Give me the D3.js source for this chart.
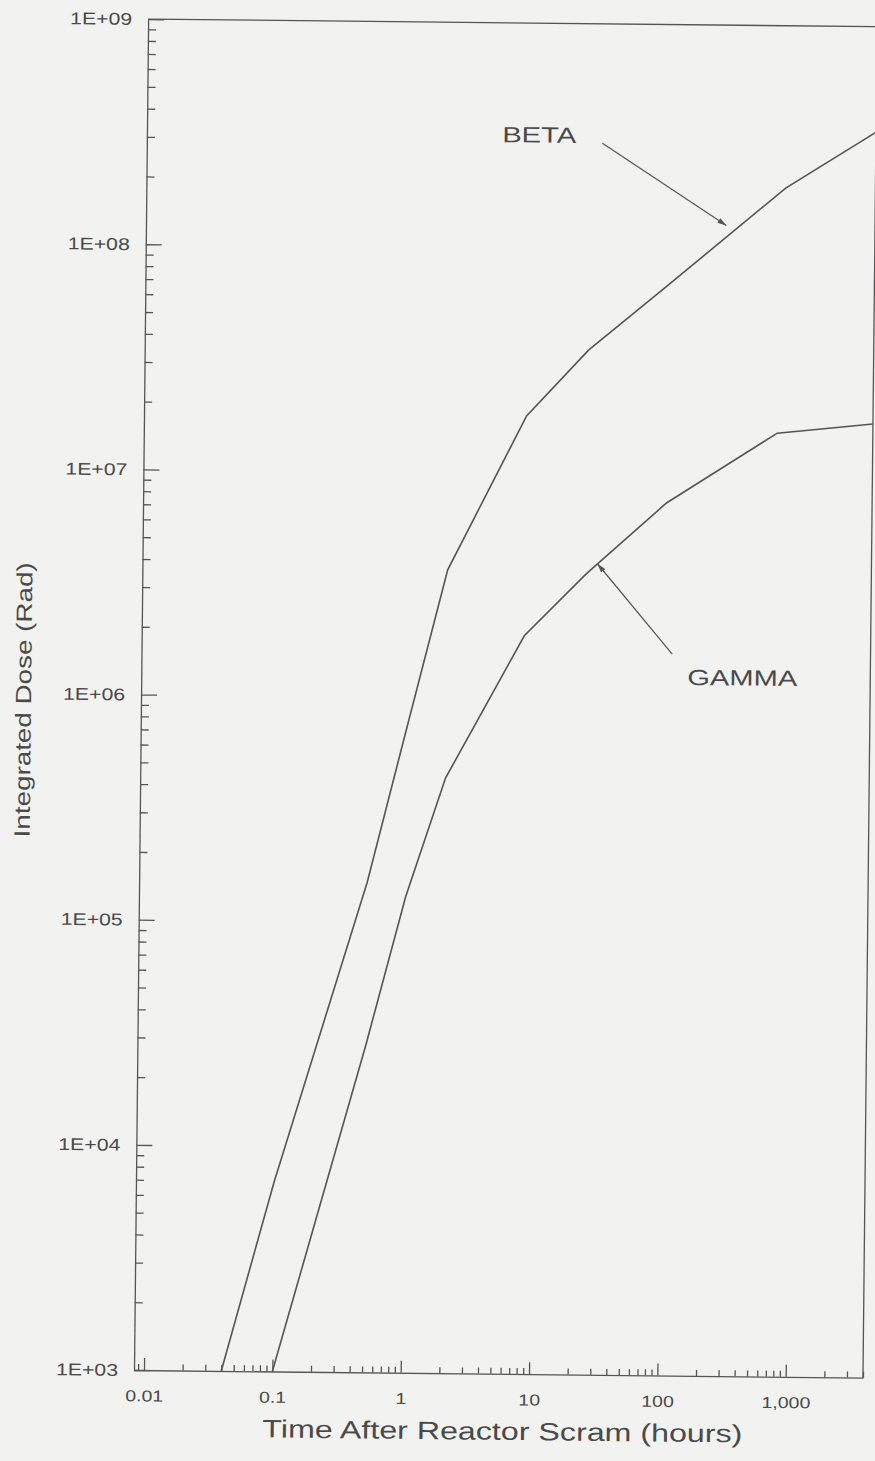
<!DOCTYPE html>
<html>
<head>
<meta charset="utf-8">
<script src="https://cdn.jsdelivr.net/npm/d3@7"></script>
<style>
  body { margin: 0; background: #f2f2f0; }
  text { font-family: "Liberation Sans", Arial, sans-serif; fill: #4a4a4a; }
</style>
</head>
<body>
<div id="chart"></div>
<script>
// values (hours, rad)
const betaTime  = [0.04, 0.1, 0.5, 1, 2, 8, 24, 100, 800, 4000];
const betaDose  = [1e3, 7e3, 1.5e5, 7.5e5, 3.7e6, 1.8e7, 3.55e7, 7e7, 1.9e8, 3.4e8];
const gammaTime = [0.1, 0.5, 1, 2, 8, 24, 100, 720, 4000];
const gammaDose = [1e3, 2.8e4, 1.3e5, 4.4e5, 1.9e6, 3.6e6, 7.5e6, 1.55e7, 1.72e7];

const xTickValues = [0.01, 0.1, 1, 10, 100, 1000];
const xTickLabels = ['0.01', '0.1', '1', '10', '100', '1,000'];
const yTickValues = [1e3, 1e4, 1e5, 1e6, 1e7, 1e8, 1e9];
const yTickLabels = ['1E+03', '1E+04', '1E+05', '1E+06', '1E+07', '1E+08', '1E+09'];

// annotation anchors, in data units
const betaNote  = { text: 'BETA',  at: [4.9, 2.95e8], from: [29.6, 2.95e8], to: [278, 1.29e8] };
const gammaNote = { text: 'GAMMA', at: [150, 1.17e6], from: [114, 1.6e6],  to: [29.3, 4.0e6] };

const svgWidth = 875;
const svgHeight = 1461;
const W = 729, H = 1351;
const left = 134, bottom = 1370;
const tilt = 0.6; // the scan is slightly rotated
const stretch = 1.22; // the lettering is wide

const svg = d3.select('#chart')
    .append('svg')
    .attr('width', svgWidth)
    .attr('height', svgHeight);

svg.append('rect').attr('width', svgWidth).attr('height', svgHeight).attr('fill', '#f2f2f0');

const defs = svg.append('defs');
defs.append('marker')
    .attr('id', 'head')
    .attr('viewBox', '0 0 10 10')
    .attr('refX', 10).attr('refY', 5)
    .attr('markerWidth', 9).attr('markerHeight', 9)
    .attr('markerUnits', 'userSpaceOnUse')
    .attr('orient', 'auto')
    .append('path')
    .attr('d', 'M0,2 L10,5 L0,8 Z')
    .attr('fill', '#555');

const g = svg.append('g')
    .attr('transform', `rotate(${tilt},${left},${bottom}) translate(${left},${bottom - H})`);

const x = d3.scaleLog().domain([0.00836, 4000]).range([0, W]);
const y = d3.scaleLog().domain([1e3, 1e9]).range([H, 0]);

// minor tick values 2..9 for each decade
function minors(lo, hi) {
    const out = [];
    for (let p = Math.floor(Math.log10(lo)); p <= Math.ceil(Math.log10(hi)); p++) {
        for (let k = 1; k < 10; k++) {
            const v = k * Math.pow(10, p);
            if (v >= lo && v <= hi && !(k === 1 && p >= -2)) out.push(v);
        }
    }
    return out;
}

const axisColor = '#555';

// y axis
g.append('g')
    .call(d3.axisLeft(y).tickValues(minors(1e3, 1e9)).tickSize(-8).tickSizeOuter(0).tickFormat(''))
    .call(a => a.select('.domain').remove());
const yAxis = g.append('g')
    .call(d3.axisLeft(y).tickValues(yTickValues).tickSize(-16).tickSizeOuter(0).tickPadding(16)
        .tickFormat((d, i) => yTickLabels[i]));
yAxis.selectAll('text')
    .attr('x', -16 / 1.25)
    .attr('transform', 'scale(1.25,1)')
    .style('font-size', '17px');

// x axis
g.append('g')
    .attr('transform', `translate(0,${H})`)
    .call(d3.axisBottom(x).tickValues(minors(0.00836, 4000)).tickSize(-6).tickSizeOuter(0).tickFormat(''))
    .call(a => a.select('.domain').remove());
const xAxis = g.append('g')
    .attr('transform', `translate(0,${H})`)
    .call(d3.axisBottom(x).tickValues(xTickValues).tickSize(-12).tickSizeOuter(0).tickPadding(20)
        .tickFormat((d, i) => xTickLabels[i]));
xAxis.selectAll('text')
    .attr('transform', `scale(${stretch},1)`)
    .style('font-size', '16px');

g.selectAll('.domain, .tick line').attr('stroke', axisColor).attr('stroke-width', 1.3);
g.selectAll('.tick text').attr('fill', '#4a4a4a');

// top and right frame
g.append('path')
    .attr('d', `M0,0H${W}V${H}`)
    .attr('fill', 'none')
    .attr('stroke', axisColor)
    .attr('stroke-width', 1.3);

// curves
const line = d3.line().x(d => x(d.t)).y(d => y(d.v));
const series = [
    betaTime.map((t, i) => ({ t, v: betaDose[i] })),
    gammaTime.map((t, i) => ({ t, v: gammaDose[i] }))
];
g.selectAll('path.curve')
    .data(series)
    .enter()
    .append('path')
    .attr('class', 'curve')
    .attr('d', line)
    .attr('fill', 'none')
    .attr('stroke', '#555')
    .attr('stroke-width', 1.6);

// labels with arrows
[[betaNote, 74], [gammaNote, 110]].forEach(([n, len]) => {
    g.append('text')
        .attr('x', x(n.at[0]))
        .attr('y', y(n.at[1]))
        .attr('textLength', len)
        .attr('lengthAdjust', 'spacingAndGlyphs')
        .style('font-size', '22px')
        .text(n.text);
    g.append('line')
        .attr('x1', x(n.from[0])).attr('y1', y(n.from[1]))
        .attr('x2', x(n.to[0])).attr('y2', y(n.to[1]))
        .attr('stroke', '#555')
        .attr('stroke-width', 1.2)
        .attr('marker-end', 'url(#head)');
});

// axis titles
g.append('text')
    .attr('x', 369)
    .attr('y', H + 66)
    .attr('text-anchor', 'middle')
    .attr('textLength', 480)
    .attr('lengthAdjust', 'spacingAndGlyphs')
    .style('font-size', '25px')
    .text('Time After Reactor Scram (hours)');

g.append('text')
    .attr('transform', `translate(-110,${H - 669}) rotate(-90)`)
    .attr('text-anchor', 'middle')
    .attr('textLength', 275)
    .attr('lengthAdjust', 'spacingAndGlyphs')
    .style('font-size', '22px')
    .text('Integrated Dose (Rad)');
</script>
</body>
</html>
